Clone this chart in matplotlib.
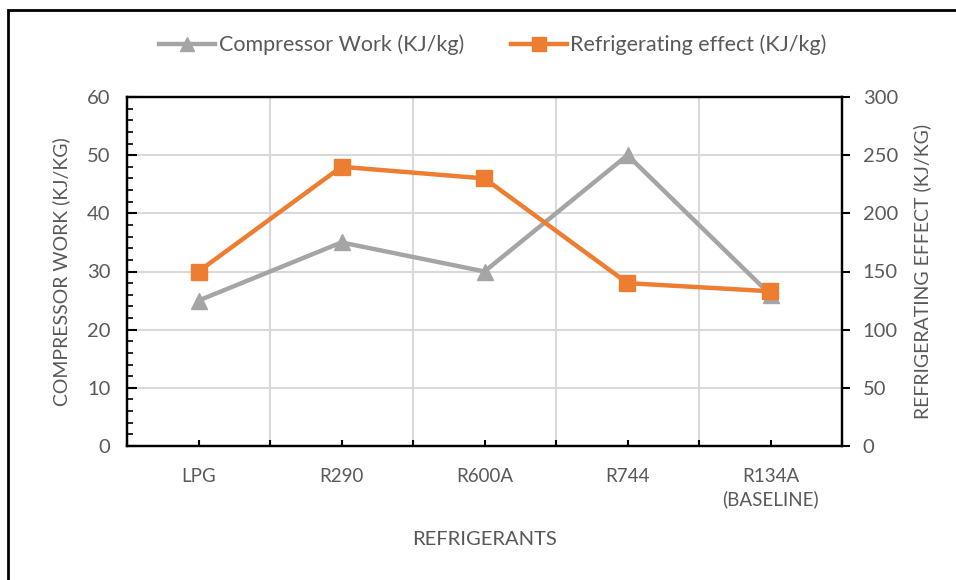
import matplotlib
matplotlib.use("Agg")
import matplotlib.pyplot as plt
from matplotlib.lines import Line2D
from matplotlib.patches import Rectangle
from matplotlib.ticker import MultipleLocator, FixedLocator

plt.rcParams['font.family'] = ['Lato', 'DejaVu Sans']

categories = ["LPG", "R290", "R600A", "R744", "R134A\n(BASELINE)"]
compressor_work = [25, 35, 30, 50, 26]
refrigerating_effect = [150, 240, 230, 140, 133]

GRAY = "#A5A5A5"
ORANGE = "#ED7D31"
TXT = "#595959"
GRID = "#D9D9D9"

fig = plt.figure(figsize=(9.56, 5.80), dpi=100)
ax = fig.add_axes([127/956, 1-446/580, (842-127)/956, (446-97)/580])
ax2 = ax.twinx()

x = list(range(len(categories)))
ax.set_xlim(-0.5, len(categories) - 0.5)
ax.set_ylim(0, 60)
ax2.set_ylim(0, 300)

ax.yaxis.set_major_locator(MultipleLocator(10))
ax.yaxis.set_minor_locator(MultipleLocator(2))
ax2.yaxis.set_major_locator(MultipleLocator(50))

ax.set_xticks(x)
ax.set_xticklabels(categories)
ax.xaxis.set_minor_locator(FixedLocator([i + 0.5 for i in range(-1, len(categories))]))

ax.grid(True, axis='y', which='major', color=GRID, linewidth=1.5)
ax.grid(True, axis='x', which='minor', color=GRID, linewidth=1.5)
ax.set_axisbelow(True)

for a in (ax, ax2):
    for s in a.spines.values():
        s.set_color("black")
        s.set_linewidth(1.6)

ax.tick_params(axis='y', which='major', direction='in', length=7, width=1.5, color='black',
               labelsize=14.5, labelcolor=TXT, pad=12)
ax.tick_params(axis='y', which='minor', direction='in', length=4, width=1.2, color='black')
ax.tick_params(axis='x', which='both', direction='in', length=4, width=1.5, color='black',
               labelsize=13.5, labelcolor=TXT, pad=16)
ax2.tick_params(axis='y', which='major', direction='out', length=6, width=1.5, color='black',
                labelsize=14.5, labelcolor=TXT, pad=9)

for lab in ax.get_xticklabels():
    lab.set_linespacing(1.35)

ax.plot(x, compressor_work, color=GRAY, linewidth=3.2, marker='^', markersize=12, zorder=3)
ax2.plot(x, refrigerating_effect, color=ORANGE, linewidth=3.2, marker='s', markersize=12, zorder=3)

ax.set_ylabel("COMPRESSOR WORK (KJ/KG)", fontsize=14, color=TXT, labelpad=12)
ax2.set_ylabel("REFRIGERATING EFFECT (KJ/KG)", fontsize=14, color=TXT, labelpad=11)
ax.set_xlabel("REFRIGERANTS", fontsize=14.5, color=TXT, labelpad=16)

handles = [Line2D([], [], color=GRAY, linewidth=3.2, marker='^', markersize=10),
           Line2D([], [], color=ORANGE, linewidth=3.2, marker='s', markersize=10)]
fig.legend(handles, ["Compressor Work (KJ/kg)", "Refrigerating effect (KJ/kg)"],
           loc='center', bbox_to_anchor=(493/956, 1-45/580), ncol=2, frameon=False,
           fontsize=15.5, labelcolor=TXT, handlelength=2.6, handletextpad=0.15, columnspacing=2.2)

fig.patches.append(Rectangle((8/956, -0.01), 1.0, 1 - 10/580 + 0.01, transform=fig.transFigure,
                             fill=False, edgecolor='black', linewidth=2))

fig.savefig("out.png", dpi=100)
